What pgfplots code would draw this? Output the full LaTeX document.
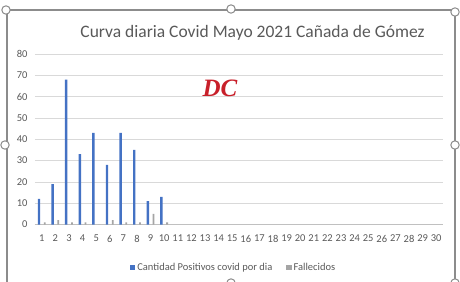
\documentclass[border=0pt]{standalone}
\usepackage{pgfplots}
\pgfplotsset{compat=1.18}
\usepackage{fontspec}
\setmainfont{Carlito}
\newfontfamily\dcfont{Liberation Serif}
\definecolor{xblue}{HTML}{4472C4}
\definecolor{xgray}{HTML}{A5A5A5}
\definecolor{xtext}{HTML}{595959}
\definecolor{xgrid}{HTML}{D9D9D9}
\definecolor{xframe}{HTML}{8C8C8C}
\definecolor{xred}{HTML}{C8202A}
\begin{document}
\begin{tikzpicture}[x=1pt,y=1pt]
\useasboundingbox (0,0) rectangle (460,281);
% chart frame
\draw[xframe, line width=1.2pt] (7,-5) -- (7,271) -- (455,271) -- (455,-5);
\begin{axis}[
  at={(35pt,56.5pt)}, anchor=south west,
  scale only axis, width=408pt, height=170.5pt,
  xmin=0.5, xmax=30.5, ymin=0, ymax=80,
  xtick={1,...,30}, ytick={0,10,...,80},
  major tick length=0pt,
  axis x line*=bottom, axis y line*=left,
  x axis line style={draw=xgray!70, line width=0.8pt, -},
  y axis line style={draw=none},
  ymajorgrids, grid style={xgrid, line width=0.6pt},
  /pgf/number format/assume math mode=true,
  tick label style={font=\fontsize{10.5}{11}\selectfont, text=xtext},
  xticklabel style={yshift=-7pt},
  yticklabel style={xshift=-4pt},
  legend style={at={(0.487,-0.25)}, anchor=center, draw=none, fill=none,
    font=\fontsize{10.5}{11}\selectfont, text=xtext, legend columns=2,
    /tikz/every even column/.append style={column sep=12pt}},
  legend image code/.code={\fill[#1] (0pt,-2.6pt) rectangle (5.2pt,2.6pt);},
]
\addplot[ybar, bar width=2.4pt, bar shift=-2.8pt, fill=xblue, draw=none] coordinates {
(1,12) (2,19) (3,68) (4,33) (5,43) (6,28) (7,43) (8,35) (9,11) (10,13)};
\addlegendentry{Cantidad Positivos covid por dia}
\addplot[ybar, bar width=1.8pt, bar shift=2.9pt, fill=xgray, draw=none] coordinates {
(1,1) (2,2) (3,1) (4,1) (5,0) (6,2) (7,1) (8,1) (9,5) (10,1)};
\addlegendentry{Fallecidos}
\node[font=\dcfont\bfseries\itshape\fontsize{25}{25}\selectfont, text=xred] at (axis cs:14.1,64) {DC};
\end{axis}
\node[font=\fontsize{17.5}{18}\selectfont, text=xtext] at (252.5,248) {Curva diaria Covid Mayo 2021 Cañada de Gómez};
% selection handles
\foreach \p in {(6,271),(231,272),(455,269),(5,136),(455,136),(231,-2),(455,-2)}
  \draw[xframe, fill=white, line width=1pt] \p circle (4.2);
\end{tikzpicture}
\end{document}
